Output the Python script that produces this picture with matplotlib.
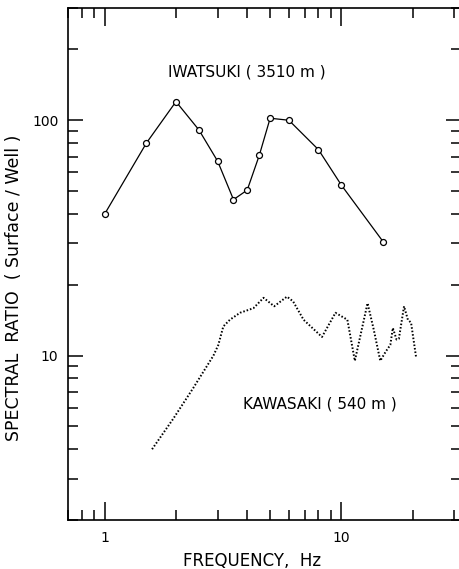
import matplotlib
matplotlib.use("Agg")
import matplotlib.pyplot as plt
from matplotlib.ticker import LogLocator, FixedLocator, NullFormatter

# Iwatsuki (3510 m) - spectral ratio at discrete frequencies
iwa_freq = [1.0, 1.5, 2.0, 2.5, 3.0, 3.5, 4.0, 4.5, 5.0, 6.0, 8.0, 10.0, 15.0]
iwa_ratio = [40, 80, 120, 91, 67, 46, 50.5, 71, 102, 100, 75, 53, 30.5]

# Kawasaki (540 m) - continuous spectral ratio (dotted)
kaw_freq = [1.585, 1.95, 2.37, 2.88, 3.02, 3.17, 3.38, 3.73, 4.25, 4.69, 5.2,
            5.89, 6.25, 6.92, 8.28, 9.44, 10.6, 11.4, 12.9, 13.7, 14.6, 15.4,
            16.1, 16.5, 17.1, 17.5, 18.4, 19.1, 19.7, 20.7]
kaw_ratio = [4.0, 5.4, 7.3, 10.0, 11.1, 13.3, 14.2, 15.2, 15.9, 17.6, 16.2,
             17.8, 17.0, 14.2, 12.0, 15.2, 14.2, 9.5, 16.7, 12.9, 9.5, 10.4,
             11.1, 13.1, 11.7, 11.8, 16.2, 14.2, 13.8, 9.8]

fig = plt.figure(figsize=(4.6, 5.69), dpi=100)
ax = fig.add_axes([0.148, 0.086, 0.854, 0.900])

ax.plot(iwa_freq, iwa_ratio, color="black", lw=0.9, marker="o", ms=4.3,
        mfc="white", mec="black", mew=0.9)
ax.plot(kaw_freq, kaw_ratio, color="black", lw=1.4, linestyle=(0, (0.8, 1.0)))

ax.set_xscale("log")
ax.set_yscale("log")
ax.set_xlim(0.7, 32)
ax.set_ylim(2, 300)

ax.xaxis.set_major_locator(FixedLocator([1, 10]))
ax.xaxis.set_minor_locator(LogLocator(base=10, subs=range(2, 10)))
ax.yaxis.set_major_locator(FixedLocator([10, 100]))
ax.yaxis.set_minor_locator(LogLocator(base=10, subs=range(2, 10)))
ax.xaxis.set_minor_formatter(NullFormatter())
ax.yaxis.set_minor_formatter(NullFormatter())
ax.set_xticklabels(["1", "10"])
ax.set_yticklabels(["10", "100"])

ax.tick_params(which="both", direction="in", top=True, right=True,
               width=1.1, labelsize=10, colors="black")
ax.tick_params(axis="x", which="major", length=13, pad=8)
ax.tick_params(axis="y", which="major", length=11, pad=7)
ax.tick_params(which="minor", length=7.5)
for s in ax.spines.values():
    s.set_linewidth(1.2)
# the right frame edge falls just outside the scanned page
ax.spines["right"].set_visible(False)

ax.text(3.98, 160, "IWATSUKI ( 3510 m )", fontsize=11, ha="center", va="center")
ax.text(8.1, 6.2, "KAWASAKI ( 540 m )", fontsize=11, ha="center", va="center")

ax.set_xlabel("FREQUENCY,  Hz", fontsize=12)
ax.set_ylabel("SPECTRAL  RATIO  ( Surface / Well )", fontsize=12.5)
ax.xaxis.set_label_coords(0.468, -0.062)
ax.yaxis.set_label_coords(-0.115, 0.453)

fig.savefig("out.png", dpi=100)
